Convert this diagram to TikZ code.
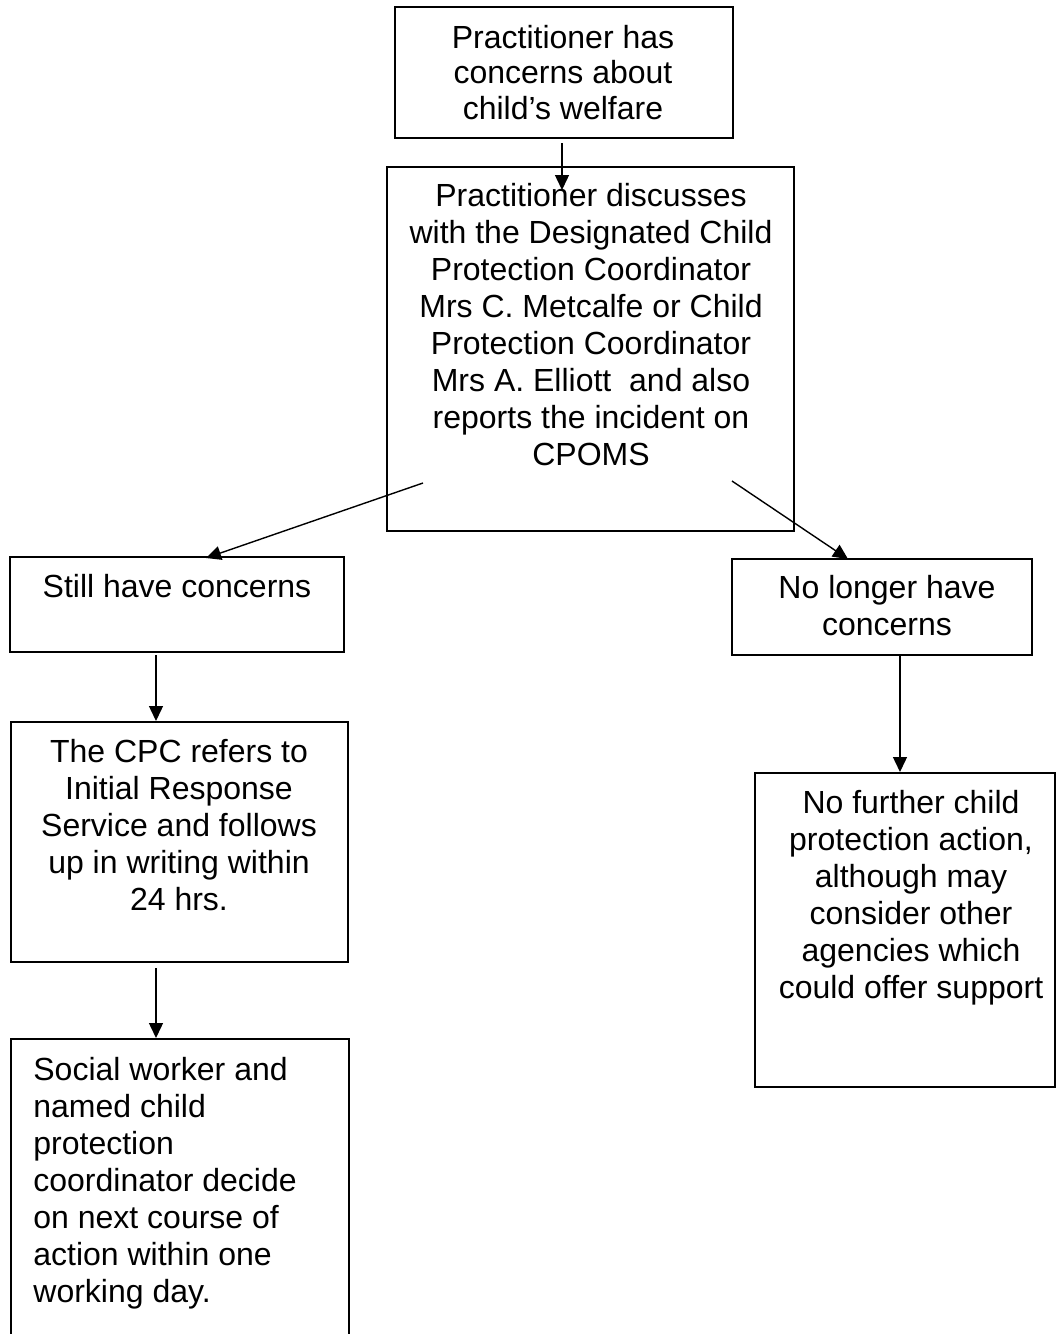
\documentclass[tikz,border=0pt]{standalone}
\usepackage{fontspec}
\setmainfont{Liberation Sans}
\usetikzlibrary{arrows.meta}
\tikzset{
  box/.style={draw, line width=1pt, inner sep=0pt},
  txt/.style={inner sep=0pt, font=\fontsize{16pt}{18.5pt}\selectfont, align=center, anchor=north},
  arr/.style={line width=0.7pt, -{Triangle[width=7pt,length=7.5pt]}}
}
\begin{document}
\begin{tikzpicture}[x=0.5pt,y=-0.5pt]
\useasboundingbox (0,0) rectangle (1057,1334);
% boxes
\node[box, minimum width=169pt, minimum height=65.5pt] (B1) at (564,72.5) {};
\node[box, minimum width=203.5pt, minimum height=182pt] (B2) at (590.5,349) {};
\node[box, minimum width=167pt, minimum height=47.5pt] (B3) at (177,604.5) {};
\node[box, minimum width=150pt, minimum height=48pt] (B4) at (882,607) {};
\node[box, minimum width=168.5pt, minimum height=120pt] (B5) at (179.5,842) {};
\node[inner sep=0pt, minimum width=168.5pt, minimum height=147.5pt, anchor=north west] (B6) at (11,1039) {};
\draw[line width=1pt] (B6.south west) -- (B6.north west) -- (B6.north east) -- (B6.south east);
\node[box, minimum width=150pt, minimum height=157pt] (B7) at (905,930) {};
% texts
\node[txt, font=\fontsize{16pt}{17.7pt}\selectfont] (T1) at (563,25) {Practitioner has\\concerns about\\child’s welfare};
\node[txt] (T2) at (591,182.5) {Practitioner discusses\\with the Designated Child\\Protection Coordinator\\Mrs C. Metcalfe or Child\\Protection Coordinator\\Mrs A. Elliott\ \ and also\\reports the incident on\\CPOMS};
\node[txt] (T3) at (177,573.5) {Still have concerns};
\node[txt] (T4) at (887,574.5) {No longer have\\concerns};
\node[txt] (T5) at (179,738.5) {The CPC refers to\\Initial Response\\Service and follows\\up in writing within\\24 hrs.};
\node[txt, align=left, anchor=north west] (T6) at (33,1056.5) {Social worker and\\named child\\protection\\coordinator decide\\on next course of\\action within one\\working day.};
\node[txt] (T7) at (911,789.5) {No further child\\protection action,\\although may\\consider other\\agencies which\\could offer support};
% connector ends
\coordinate (a1s) at (562,143); \coordinate (a1e) at (562,190);
\coordinate (a2s) at (423,483); \coordinate (a2e) at (206,558);
\coordinate (a3s) at (732,481); \coordinate (a3e) at (848,559);
\coordinate (a4s) at (156,655); \coordinate (a4e) at (156,721);
\coordinate (a5s) at (156,968); \coordinate (a5e) at (156,1038);
\coordinate (a6s) at (900,656); \coordinate (a6e) at (900,772);
\draw[arr] (a1s) -- (a1e);
\draw[arr] (a2s) -- (a2e);
\draw[arr] (a3s) -- (a3e);
\draw[arr] (a4s) -- (a4e);
\draw[arr] (a5s) -- (a5e);
\draw[arr] (a6s) -- (a6e);
\end{tikzpicture}
\end{document}
